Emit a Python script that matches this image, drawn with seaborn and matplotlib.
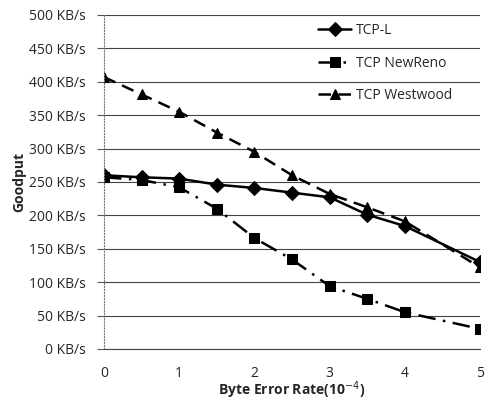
import pandas as pd
import seaborn as sns
import matplotlib.pyplot as plt

# Dữ liệu
ber = [0, 0.5, 1, 1.5, 2, 2.5, 3, 3.5, 4, 5]
tcp_l = [260, 257, 255, 246, 241, 234, 227, 201, 184, 130]
tcp_newreno = [257, 253, 242, 210, 166, 134, 94, 75, 55, 30]
tcp_westwood = [407, 381, 355, 324, 295, 260, 232, 212, 191, 122]
series_names = ['TCP-L', 'TCP NewReno', 'TCP Westwood']
y_ticks = list(range(0, 501, 50))

df = pd.DataFrame({
    'ber': ber * 3,
    'goodput': tcp_l + tcp_newreno + tcp_westwood,
    'proto': [s for s in series_names for _ in ber],
})

sns.set_style('white')
plt.rcParams['font.family'] = ['Open Sans', 'DejaVu Sans']

fig = plt.figure(figsize=(4.88, 4.03), dpi=100)
ax = fig.add_axes([0.213, 0.134, 0.771, 0.829])

sns.lineplot(data=df, x='ber', y='goodput', hue='proto', style='proto',
             palette=['black'] * 3,
             markers={'TCP-L': 'D', 'TCP NewReno': 's', 'TCP Westwood': '^'},
             dashes={'TCP-L': '', 'TCP NewReno': (7, 3, 1, 3), 'TCP Westwood': (5, 3)},
             markersize=7, linewidth=1.8, markeredgecolor='black', ax=ax)

ax.set_xlim(0, 5)
ax.set_ylim(0, 500)
ax.set_xticks(range(6))
ax.set_yticks(y_ticks)
ax.set_yticklabels([f'{v} KB/s' for v in y_ticks], fontsize=10)
ax.tick_params(axis='x', labelsize=10, pad=9, length=3, direction='out', color='#555')
ax.tick_params(axis='y', pad=8, length=5, color='#555', left=True)
ax.grid(axis='y', color='#444', linewidth=0.8)
for side in ['top', 'right']:
    ax.spines[side].set_visible(False)
ax.spines['left'].set_linestyle(':')
ax.spines['left'].set_color('#777')
ax.spines['bottom'].set_color('#444')

ax.set_xlabel('Byte Error Rate(10$^{-4}$)', fontsize=10, fontweight='bold')
ax.xaxis.set_label_coords(0.5, -0.123)
ax.xaxis.label.set_va('center')
ax.set_ylabel('Goodput', fontsize=10, fontweight='bold', labelpad=2)

ax.legend(title=None, frameon=False, loc='upper left', bbox_to_anchor=(0.569, 0.975),
          borderpad=0, borderaxespad=0, fontsize=10, handlelength=2.4,
          handletextpad=0.3, labelspacing=1.25)

plt.savefig('out.png', dpi=100)
